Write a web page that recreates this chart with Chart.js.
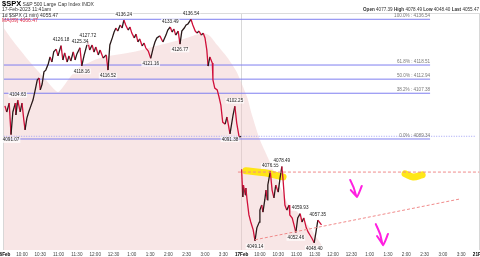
<!DOCTYPE html>
<html>
<head>
<meta charset="utf-8">
<script src="https://cdn.jsdelivr.net/npm/chart.js@4.4.1/dist/chart.umd.min.js"></script>
<style>
html,body{margin:0;padding:0;background:#fff;}
#wrap{position:relative;width:480px;height:257px;overflow:hidden;font-family:"Liberation Sans",Arial,sans-serif;}
canvas{position:absolute;left:0;top:0;}
.t{position:absolute;white-space:nowrap;font-size:5px;line-height:1;color:#333;}
</style>
</head>
<body>
<div id="wrap">
<canvas id="chart" width="480" height="257"></canvas>
<div class="t" style="left:2px;top:0px;"><b style="font-size:7.5px;color:#000">$SPX</b> S&amp;P 500 Large Cap Index INDX</div>
<div class="t" style="left:2px;top:7px;">17-Feb-2023 11:41am</div>
<div class="t" style="left:2px;top:13px;">1d $SPX (1 min) 4055.47</div>
<div class="t" style="left:2px;top:17.5px;color:#e0304a;">MA(89) 4066.47</div>
<div class="t" style="left:363px;top:7.5px;font-size:4.6px;"><b>Open</b> 4077.39 <b>High</b> 4078.49 <b>Low</b> 4048.40 <b>Last</b> 4055.47</div>
</div>
<script>
// minutes from 16 Feb 9:30 open (390 per session)
const dayLabels = ['16Feb', '17Feb', '21Feb']
const timeLabels = ['10:00','10:30','11:00','11:30','12:00','12:30','1:00','1:30','2:00','2:30','3:00','3:30']

const priceTime = [2,5,9,12,15,19,20,23,27,30,33,35,38,41,45,48,51,55,58,60,63,66,69,73,76,79,82,86,89,94,97,100,104,107,110,114,117,120,125,128,132,135,138,141,145,148,151,155,158,163,168,171,174,178,181,184,187,191,194,197,200,204,207,210,214,217,220,223,227,230,233,237,241,245,248,251,256,261,266,269,273,276,279,282,286,289,292,296,299,302,307,310,314,317,320,324,327,330,333,335,338,342,343,346,350,353,356,359,363,366,371,376,379,382,386,389,389.5,
  390,392,393,396,397,399,402,405,409,412,415,419,420,423,425,428,430,432,433,437,440,443,446,450,453,456,458,461,464,468,469,473,476,479,482,486,489,492,496,499,502,505,509,512,515,521]
const priceValue = [4102.4,4100.0,4103.5,4091.07,4100.0,4103.5,4098.8,4104.63,4100.0,4103.5,4096.8,4092.9,4097.6,4100.0,4102.7,4104.7,4107.9,4112.6,4113.4,4108.7,4111.0,4115.8,4116.5,4118.9,4121.7,4119.7,4123.7,4124.8,4122.1,4126.18,4120.5,4123.3,4119.7,4122.1,4120.1,4123.7,4120.5,4122.9,4125.34,4118.16,4122.5,4125.2,4127.72,4124.4,4126.4,4123.6,4125.6,4122.5,4124.4,4121.3,4122.5,4116.52,4126.4,4129.2,4131.5,4133.1,4131.9,4134.3,4133.1,4136.24,4134.3,4132.3,4133.5,4131.1,4129.2,4130.7,4127.6,4128.8,4126.0,4127.2,4125.2,4124.0,4121.16,4125.2,4127.6,4129.2,4130.0,4127.6,4130.3,4132.3,4133.49,4131.5,4132.7,4130.3,4131.9,4126.77,4131.9,4133.1,4134.3,4134.7,4136.54,4134.3,4131.9,4131.1,4131.9,4130.3,4131.1,4129.2,4124.4,4118.1,4121.7,4119.3,4112.6,4109.4,4108.7,4105.9,4102.7,4096.0,4095.2,4098.0,4091.38,4098.8,4102.25,4095.6,4090.1,4090.41,null,
  4077.39,4066.5,4071.2,4067.3,4070.0,4065.3,4059.4,4056.6,4053.5,4049.14,4054.3,4056.6,4061.3,4063.3,4060.5,4065.3,4069.2,4065.3,4071.2,4076.55,4069.2,4066.1,4071.2,4068.4,4073.9,4078.49,4073.1,4063.3,4061.3,4063.3,4059.4,4058.2,4055.4,4052.46,4058.2,4059.93,4056.6,4058.2,4054.3,4052.7,4051.5,4050.3,4048.40,4052.7,4057.35,4055.47]

// long moving average drawn as shaded mountain
const maTime = [0,14,43,68,89,109,125,158,212,256,289,310,327,338,350,366,382,399,407,420,437,456,469,481,502,521]
const maValue = [4133.1,4128.4,4119.7,4113.0,4107.9,4113.8,4117.7,4121.3,4123.6,4126.4,4128.4,4130.0,4131.1,4130.0,4126.4,4121.7,4115.8,4105.9,4098.8,4089.0,4079.9,4069.2,4062.1,4060.7,4054.3,4047.6]

// fibonacci retracement
const fibPct = ['100.0%', '61.8%', '50.0%', '38.2%', '0.0%']
const fibValue = [4136.54, 4118.51, 4112.94, 4107.38, 4089.34]
const fibEnd = 699
const prevClose = 4090.41

// high / low callouts: 1 above, -1 below
const noteTime = [12,23,94,125,138,128,171,197,241,273,307,289,379,371,437,456,412,486,479,515,509]
const noteValue = [4091.07,4104.63,4126.18,4125.34,4127.72,4118.16,4116.52,4136.24,4121.16,4133.49,4136.54,4126.77,4102.25,4091.38,4076.55,4078.49,4049.14,4059.93,4052.46,4057.35,4048.40]
const noteSide = [-1,1,1,1,1,-1,-1,1,-1,1,1,-1,1,-1,1,1,-1,1,-1,1,-1]

// hand drawn marks
const resistTime = [384, 780]
const resistValue = [4076.3, 4076.3]
const trendTime = [412, 748]
const trendValue = [4049.6, 4065.7]
const hiliteTime = [397, 428, 458, null, 658, 671, 686]
const hiliteValue = [4076.8, 4076.0, 4074.4, null, 4075.6, 4074.4, 4075.2]
const arrowTime = [568, 574, 579, 587, null, 569, 579, null, 610, 617, 622, 630, null, 612, 622]
const arrowValue = [4073.2, 4070.0, 4066.5, 4070.8, null, 4069.2, 4066.5, null, 4055.8, 4051.9, 4047.5, 4051.9, null, 4051.1, 4047.5]

const pts = (xs, ys) => xs.map((x, i) => ({x: x === null ? (xs[i-1] + 0.1) : x, y: ys[i]}))

const FONT = '"Liberation Sans", Arial, sans-serif'

const datasets = []
datasets.push({
  data: pts(maTime, maValue), fill: 'start', backgroundColor: 'rgba(240,200,200,0.45)',
  borderWidth: 0, pointRadius: 0, tension: 0.2, order: 10
})
fibValue.forEach(v => datasets.push({
  data: [{x: 0, y: v}, {x: fibEnd, y: v}], borderColor: '#7f7ff0', borderWidth: 1, pointRadius: 0, order: 8
}))
datasets.push({
  data: [{x: 0, y: prevClose}, {x: 773, y: prevClose}], borderColor: '#a0a0f4', borderWidth: 1,
  borderDash: [1, 1.5], pointRadius: 0, order: 8
})
datasets.push({
  data: pts(hiliteTime, hiliteValue), borderColor: 'rgba(255,228,0,0.9)', borderWidth: 7,
  borderCapStyle: 'round', pointRadius: 0, tension: 0.4, spanGaps: false, order: 6
})
datasets.push({
  data: pts(priceTime, priceValue), borderWidth: 1.3, pointRadius: 0, spanGaps: false, order: 5,
  borderColor: '#d0103a',
  segment: {borderColor: c => c.p1.parsed.y > c.p0.parsed.y ? '#2a1a1a' : '#d0103a'}
})
datasets.push({
  data: pts(resistTime, resistValue), borderColor: '#f08a8a', borderWidth: 1, borderDash: [3, 2], pointRadius: 0, order: 4
})
datasets.push({
  data: pts(trendTime, trendValue), borderColor: '#f08a8a', borderWidth: 1, borderDash: [3, 2], pointRadius: 0, order: 4
})
datasets.push({
  data: pts(arrowTime, arrowValue), borderColor: '#ff20e0', borderWidth: 2, borderCapStyle: 'round',
  borderJoinStyle: 'round', pointRadius: 0, spanGaps: false, tension: 0.2, order: 1
})

const notesPlugin = {
  id: 'notes',
  beforeDatasetsDraw(chart) {
    const {ctx, chartArea} = chart
    ctx.save()
    ctx.strokeStyle = '#dcdcdc'
    ctx.lineWidth = 1
    ctx.beginPath()
    ctx.moveTo(0, chartArea.top + 0.5)
    ctx.lineTo(480, chartArea.top + 0.5)
    ctx.stroke()
    ctx.restore()
  },
  afterDatasetsDraw(chart) {
    const {ctx, scales: {x, y}} = chart
    ctx.save()
    ctx.font = '4.6px ' + FONT
    ctx.textAlign = 'center'
    ctx.textBaseline = 'middle'
    noteTime.forEach((t, i) => {
      const px = x.getPixelForValue(t)
      const py = y.getPixelForValue(noteValue[i]) + noteSide[i] * -5.5
      const txt = noteValue[i].toFixed(2)
      const w = ctx.measureText(txt).width + 2
      ctx.fillStyle = 'rgba(255,255,255,0.75)'
      ctx.fillRect(px - w / 2, py - 2.8, w, 5.6)
      ctx.fillStyle = '#222'
      ctx.fillText(txt, px, py)
    })
    ctx.textAlign = 'right'
    ctx.fillStyle = '#777'
    fibValue.forEach((v, i) => {
      ctx.fillText(fibPct[i] + ' : ' + v.toFixed(2), x.getPixelForValue(fibEnd), y.getPixelForValue(v) - 3.4)
    })
    ctx.restore()
  }
}

new Chart(document.getElementById('chart'), {
  type: 'line',
  data: {datasets: datasets},
  plugins: [notesPlugin],
  options: {
    responsive: false,
    animation: false,
    parsing: true,
    layout: {padding: {left: 3.7, right: 0.5, top: 13, bottom: 0}},
    plugins: {legend: {display: false}, tooltip: {enabled: false}},
    scales: {
      x: {
        type: 'linear', min: 0, max: 780,
        border: {display: false},
        grid: {
          drawTicks: false,
          color: c => (c.tick && c.tick.value % 390 === 0) ? '#d8d8d8' : 'rgba(0,0,0,0)'
        },
        ticks: {
          stepSize: 30, autoSkip: false, maxRotation: 0, padding: 1.5,
          font: c => ({family: FONT, size: 4.6, weight: (c.tick && c.tick.value % 390 === 0) ? 'bold' : 'normal'}),
          color: c => (c.tick && c.tick.value % 390 === 0) ? '#000' : '#444',
          callback: v => v % 390 === 0 ? dayLabels[v / 390] : timeLabels[(v % 390) / 30 - 1]
        },
        afterFit: s => { s.height = 7; s.paddingLeft = 0; s.paddingRight = 0 }
      },
      y: {type: 'linear', display: false, min: 4045.57, max: 4139.02}
    }
  }
})
</script>
</body>
</html>
